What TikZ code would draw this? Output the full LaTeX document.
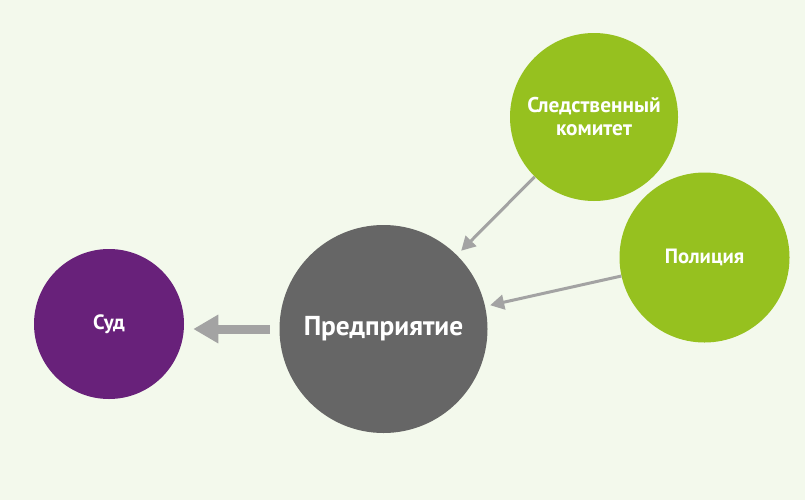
\documentclass[tikz,border=0pt]{standalone}
\usepackage{fontspec}
\setmainfont{PT Sans}
\usetikzlibrary{arrows.meta}
\definecolor{bgcol}{HTML}{F3F9EC}
\definecolor{courtcol}{HTML}{68217A}
\definecolor{firmcol}{HTML}{666666}
\definecolor{bodycol}{HTML}{96C11F}
\definecolor{arrowcol}{HTML}{A3A3A3}
\tikzset{
  disc/.style={circle, inner sep=0pt, text=white, align=center,
    font=\bfseries\fontsize{15.5}{17.25}\selectfont},
  feed/.style={draw=arrowcol, line width=2.25pt, -{Triangle[length=10.5pt,width=11pt]}},
  pass/.style={draw=arrowcol, line width=6.75pt, -{Triangle[length=18.75pt,width=20.25pt]}}
}
\begin{document}
\begin{tikzpicture}[x=0.75pt,y=-0.75pt]
  \fill[bgcol] (0,0) rectangle (805,500);

  \node[disc, fill=courtcol, minimum size=112.5pt] (sud) at (109,324) {Суд};

  \node[disc, fill=firmcol, minimum size=156pt, font=\bfseries\fontsize{20.5}{24}\selectfont] (firm) at (383.5,329) {Предприятие};

  \node[disc, fill=bodycol, minimum size=126pt, font=\bfseries\fontsize{16}{17.25}\selectfont] (sk) at (594,117) {Следственный\\комитет};

  \node[disc, fill=bodycol, minimum size=127.5pt] (pol) at (704.5,257.5) {Полиция};

  \draw[feed, shorten >=4.5pt] (sk) -- (firm);
  \draw[feed, shorten >=3.75pt] (pol) -- (firm);

  \draw[pass, shorten <=7pt, shorten >=6.75pt] (firm.west) -- (firm.west -| sud.east);
\end{tikzpicture}
\end{document}
